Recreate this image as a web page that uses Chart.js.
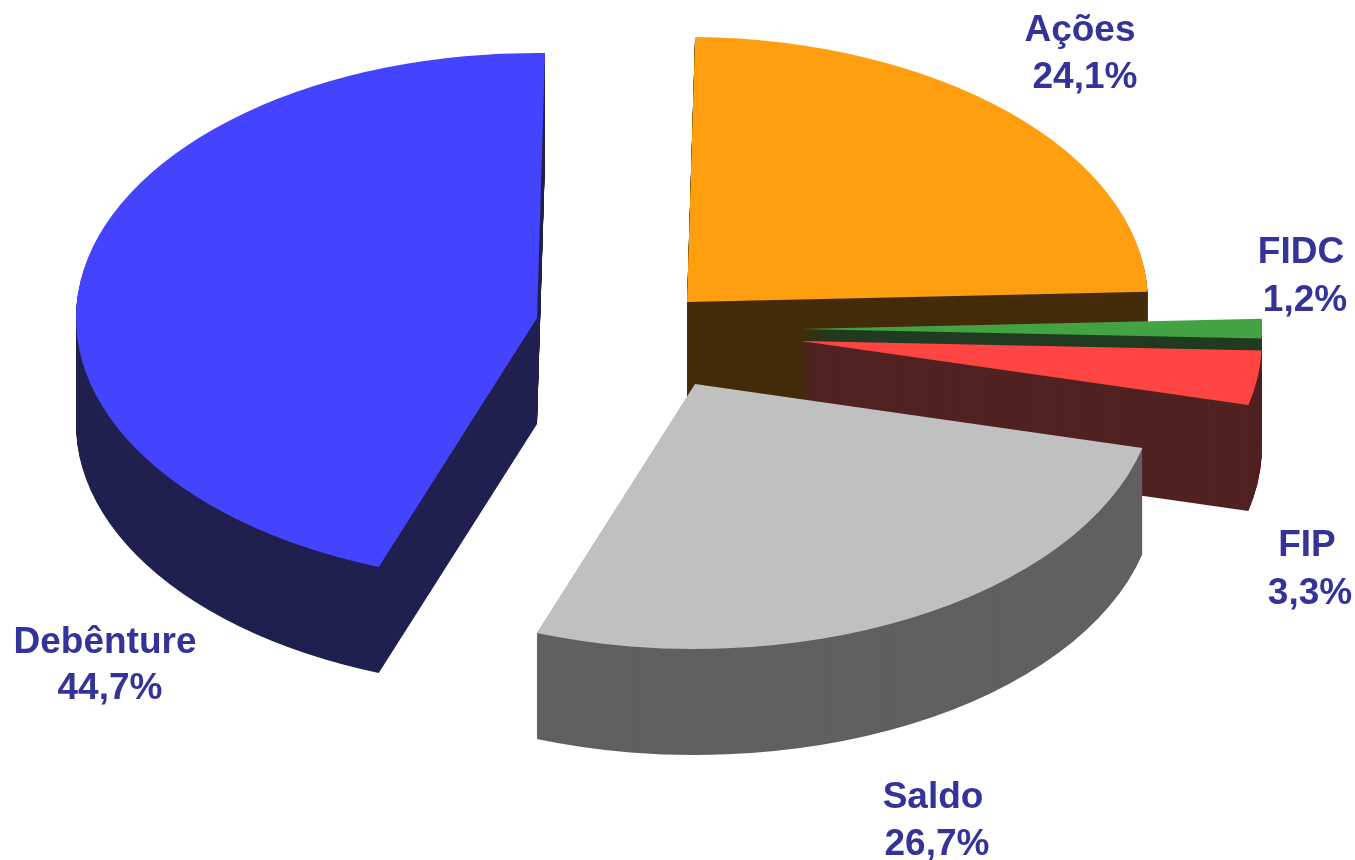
<!DOCTYPE html>
<html lang="pt">
<head>
<meta charset="utf-8">
<title>Composição</title>
<style>
  html, body { margin: 0; padding: 0; background: #fff; }
  canvas { display: block; }
</style>
<script src="https://cdn.jsdelivr.net/npm/chart.js@4/dist/chart.umd.min.js"></script>
</head>
<body>
<canvas id="pie3d" width="1355" height="860"></canvas>
<script>
// Data, clockwise from the top
var categories = ['Ações', 'FIDC', 'FIP', 'Saldo', 'Debênture'];
var shares = [24.1, 1.2, 3.3, 26.7, 44.7];

var topColors = ['#FF9F10', '#43A343', '#FF4444', '#C0C0C0', '#4444FF'];
var sideColors = ['#442C0A', '#213B21', '#512222', '#606060', '#202050'];

// -- Fake 3D layout: every slice is pulled out on its own --
var sliceCenters = [[687, 302], [801, 329], [801, 341], [695, 384], [537, 318]];
var radiusX = 461;
var radiusY = 265;
var depth = 106;

// Label anchors: [name x, name y, value x, value y]
var labelAnchors = [
  [1080, 41, 1085, 88],
  [1301, 263, 1305, 311],
  [1307, 556, 1310, 604],
  [933, 808, 937, 855],
  [105, 653, 110, 699]
];

function drawSlice(ctx, arc, index, dy, color) {
  var saved = arc.options;
  var sx = radiusX / arc.outerRadius;
  var sy = radiusY / arc.outerRadius;
  ctx.save();
  ctx.translate(sliceCenters[index][0], sliceCenters[index][1] + dy);
  ctx.scale(sx, sy);
  ctx.translate(-arc.x, -arc.y);
  arc.options = Object.assign(Object.create(saved), { backgroundColor: color });
  arc.draw(ctx);
  arc.options = saved;
  ctx.restore();
}

var pie3d = {
  id: 'pie3d',
  beforeDatasetsDraw: function (chart) {
    var ctx = chart.ctx;
    var arcs = chart.getDatasetMeta(0).data;
    for (var i = 0; i < arcs.length; i++) {
      for (var d = depth; d > 0; d--) {
        drawSlice(ctx, arcs[i], i, d, sideColors[i]);
      }
      drawSlice(ctx, arcs[i], i, 0, topColors[i]);
    }
    return false;
  },
  afterDraw: function (chart) {
    var ctx = chart.ctx;
    ctx.save();
    ctx.font = 'bold 37px "Liberation Sans", Arial, sans-serif';
    ctx.fillStyle = '#333399';
    ctx.textAlign = 'center';
    ctx.textBaseline = 'alphabetic';
    for (var i = 0; i < categories.length; i++) {
      var a = labelAnchors[i];
      ctx.fillText(categories[i], a[0], a[1]);
      ctx.fillText(shares[i].toFixed(1).replace('.', ',') + '%', a[2], a[3]);
    }
    ctx.restore();
  }
};

new Chart(document.getElementById('pie3d').getContext('2d'), {
  type: 'pie',
  data: {
    labels: categories,
    datasets: [{
      data: shares,
      backgroundColor: topColors,
      borderWidth: 0
    }]
  },
  options: {
    responsive: false,
    animation: false,
    rotation: 1,
    layout: { padding: 0 },
    plugins: {
      legend: { display: false },
      tooltip: { enabled: false }
    }
  },
  plugins: [pie3d]
});
</script>
</body>
</html>
